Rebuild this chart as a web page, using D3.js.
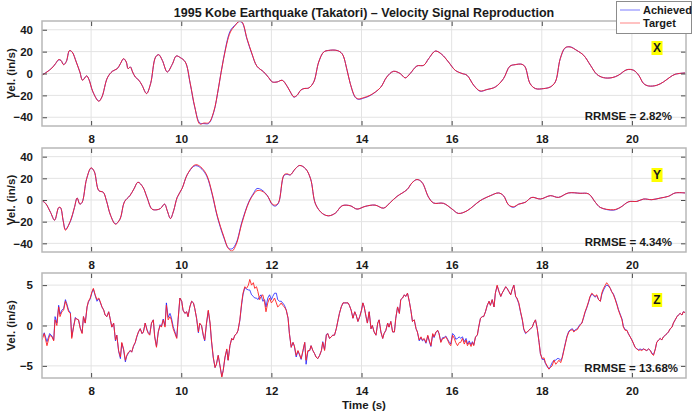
<!DOCTYPE html>
<html>
<head>
<meta charset="UTF-8" />
<script src="https://d3js.org/d3.v7.min.js"></script>
<style>
  body { margin: 0; background: #fff; }
  text { font-family: "Liberation Sans", Arial, sans-serif; font-weight: bold; fill: #1a1a1a; }
</style>
<title>Kobe velocity reproduction</title>
</head>
<body>
<div id="chart"></div>
<script>
// ---- data ----
const componentNames = ["X", "Y", "Z"];
const rrmseLabels = ["2.82%", "4.34%", "13.68%"];
const timeTicks = [8, 10, 12, 14, 16, 18, 20];
const xyTicks = [-40, -20, 0, 20, 40];
const zTicks = [-5, 0, 5];

const xTime = [6.91,7.02,7.13,7.21,7.28,7.33,7.39,7.45,7.52,7.58,7.67,7.75,7.81,7.90,7.95,8.04,8.17,8.24,8.36,8.47,8.58,8.65,8.72,8.78,8.82,8.87,8.92,8.98,9.06,9.13,9.23,9.32,9.43,9.50,9.58,9.69,9.80,9.89,9.98,10.09,10.20,10.30,10.41,10.50,10.61,10.72,10.83,10.94,11.09,11.20,11.28,11.35,11.46,11.57,11.68,11.83,11.94,12.02,12.13,12.24,12.35,12.42,12.50,12.57,12.65,12.72,12.83,12.94,13.05,13.16,13.27,13.46,13.57,13.68,13.75,13.86,13.93,14.05,14.19,14.42,14.56,14.71,14.86,14.97,15.08,15.23,15.38,15.49,15.64,15.78,15.93,16.08,16.23,16.34,16.49,16.63,16.78,16.97,17.15,17.29,17.41,17.56,17.63,17.74,17.86,18.04,18.19,18.30,18.41,18.52,18.63,18.78,18.93,19.08,19.22,19.37,19.56,19.70,19.89,20.04,20.15,20.26,20.37,20.55,20.70,20.85,20.96,21.18];
const xTarget = [-1.6,1.4,5,9,12.7,12,8,11,21,19.6,10.5,1.4,-6.2,-2.2,-5.3,-16.8,-25.4,-21.4,-4,2,4.4,9,13.6,10.5,4.4,6,1.4,-3.2,-6.2,-10.8,-18.4,-9.2,15,17.2,12,1.4,8.4,16,14.5,10.5,-9.2,-30.5,-46.2,-45.3,-45,-35,-12.3,13.6,37.9,44,47.6,47,31.8,18,6.6,1.4,-3.8,-7.7,-7.7,-6.2,-11.7,-16.8,-21.4,-19.9,-15.3,-13.8,-13.2,-7.7,10.5,19.6,21.1,21,18,2.9,-9.2,-21.4,-23.2,-22,-19.9,-12.9,-3.2,2,-0.1,-4,0,6.9,7.5,13.6,20.5,17.5,10.5,2.9,0,-1.6,-10.8,-15.9,-14.7,-12.3,-4.7,6.6,8.1,8.4,6,-9.2,-13.8,-13.8,-12.3,-7.7,13.6,23.6,24.2,21,16.6,7.5,-0.7,-3.8,-3.8,-1.6,3.5,2.9,-1.6,-9.2,-11.4,-10.8,-7.7,-3.2,-0.7,0.5];
const xAchieved = [-1.4,1.5,5,9,12.5,12,8.2,11,20.8,19.6,10.5,1.4,-6,-2.2,-5.2,-16.8,-25.2,-21.4,-4,2,4.4,9,13.4,10.5,4.4,6,1.4,-3.2,-6.2,-10.8,-18.2,-9.2,15,17.2,12,1.4,8.4,16,14.5,10.5,-9.6,-31,-45.2,-45.8,-45.6,-35.5,-12.3,14.2,39.2,44.5,47.4,46.5,31.2,17.6,6.6,1.4,-3.8,-7.7,-7.7,-6.2,-11.7,-16.8,-21.6,-19.9,-15.3,-13.8,-13.2,-7.7,10.5,19.6,21.1,21,18,2.9,-9.2,-21.8,-23.6,-22.5,-20.2,-12.9,-3.2,2,-0.1,-4,0,6.9,7.5,13.6,20.5,17.5,10.5,2.9,0,-1.6,-10.8,-16.2,-14.7,-12.3,-4.7,6.6,8.1,8.4,6,-9.2,-13.8,-13.8,-12.3,-7.7,13.6,23.4,24.4,21,16.6,7.5,-0.7,-3.8,-3.8,-1.6,3.5,2.9,-1.6,-9.2,-11.4,-10.8,-7.7,-3.2,-0.7,0.5];

const yTime = [6.91,6.99,7.10,7.19,7.28,7.32,7.38,7.43,7.54,7.63,7.69,7.75,7.80,7.90,8.00,8.07,8.17,8.27,8.34,8.43,8.54,8.64,8.74,8.86,8.95,9.04,9.15,9.24,9.35,9.46,9.54,9.63,9.69,9.76,9.83,9.91,10.02,10.13,10.28,10.35,10.46,10.57,10.68,10.80,10.94,11.05,11.13,11.22,11.35,11.50,11.61,11.68,11.79,11.91,12.02,12.09,12.16,12.28,12.35,12.42,12.53,12.63,12.76,12.87,12.98,13.13,13.27,13.42,13.57,13.75,13.90,14.08,14.30,14.49,14.64,14.79,15.01,15.12,15.23,15.34,15.49,15.60,15.82,16.01,16.15,16.34,16.49,16.63,16.86,17.04,17.15,17.26,17.37,17.49,17.63,17.78,17.97,18.19,18.37,18.59,18.85,19.04,19.19,19.30,19.59,19.74,19.93,20.11,20.26,20.44,20.63,20.81,20.96,21.18];
const yTarget = [-0.7,-3.1,-11.5,-18.6,-6.9,-6.9,-19.2,-27.9,-19.2,-6.9,1.8,-3.8,-2.2,19.5,29.7,26.3,8.7,7.1,-0.7,-14,-22.3,-17.7,-1.6,4,10.2,16.4,11.8,2.4,-8.4,-9,-7.8,-3.8,-10,-17.1,-10,2.4,10.8,23.2,31.9,32.5,29.4,22.6,7.1,-14.6,-33.2,-45,-47.1,-40.9,-20.8,-2.2,5.6,8.6,8.2,4,-3.8,-4.7,-2.2,23.2,24.2,23.2,28.8,31.9,28.8,19.5,-3.8,-12.4,-14.6,-12.1,-5.3,-5.3,-8.4,-5.9,-4.7,-7.5,-2.2,3.4,9.6,15.8,18.9,16.4,2.4,-2.8,-3.1,-8.4,-12.4,-10,-5.3,-0.7,4,6.5,4,-4.4,-6.2,-3.8,-2.2,2.4,0.9,4,2.4,6.5,6.2,5.6,-2.2,-6.9,-9,-6.9,-1.6,-1.3,0.9,0.3,1.8,3.4,6.5,6.5];
const yAchieved = [-0.7,-3.1,-11.5,-18.6,-7.2,-7.2,-19,-27,-19.8,-6.9,1.8,-3.8,-2.2,19.5,29.5,26.3,8.7,7.1,-0.7,-14,-22,-17.7,-1.6,4,10.2,16.4,11.8,2.4,-8.4,-9,-7.8,-3.8,-10,-17.1,-10,2.4,10.8,23.2,31.2,31.6,28.4,21.6,6.2,-15.4,-34.2,-44.6,-45,-39.6,-19.6,-1.6,6.6,10.6,9.2,4,-4.4,-5.6,-2.6,22.6,23.6,23.2,28.8,31.9,28.8,19.5,-3.8,-12.4,-14.6,-12.1,-5.3,-5.3,-8.4,-5.9,-4.7,-7.5,-2.2,3.4,9.6,15.8,18.9,16.4,2.4,-2.8,-3.1,-8.4,-12.4,-10,-5.3,-0.7,4,6.5,4,-4.4,-6.8,-3.8,-2.2,2.4,0.9,4,2.4,6.5,6.2,5.6,-2.2,-6.9,-9.4,-6.9,-1.6,-1.3,0.9,0.3,1.8,3.4,6.5,6.5];

const zTime = [6.91,6.96,7.02,7.08,7.13,7.17,7.20,7.24,7.28,7.31,7.35,7.39,7.43,7.46,7.50,7.54,7.57,7.61,7.65,7.68,7.72,7.76,7.80,7.83,7.87,7.91,7.94,7.98,8.02,8.05,8.09,8.13,8.17,8.20,8.24,8.28,8.31,8.35,8.39,8.42,8.46,8.50,8.54,8.57,8.61,8.65,8.68,8.72,8.76,8.79,8.83,8.87,8.90,8.94,8.98,9.01,9.05,9.09,9.13,9.16,9.20,9.24,
9.27,9.30,9.34,9.38,9.41,9.45,9.49,9.53,9.56,9.60,9.64,9.67,9.71,9.75,9.78,9.82,9.86,9.90,9.93,9.97,10.01,10.04,10.08,10.12,10.15,10.19,10.23,10.27,10.30,10.34,10.38,10.41,10.45,10.49,10.52,10.56,10.60,10.64,10.67,10.71,10.75,10.78,10.82,10.86,10.90,10.93,10.97,11.01,11.04,11.08,11.12,11.15,11.19,11.23,11.26,11.30,11.34,11.37,11.41,11.45,11.49,11.52,11.56,11.60,11.63,
11.67,11.70,11.74,11.77,11.81,11.85,11.88,11.92,11.96,12.00,12.03,12.07,12.11,12.14,12.18,12.22,12.25,12.29,12.33,12.37,12.40,12.44,12.48,12.51,12.55,12.59,12.62,12.66,12.70,12.74,12.77,12.81,12.85,12.88,12.92,12.96,12.99,13.03,13.07,13.11,13.14,13.18,13.22,13.25,13.29,13.33,13.36,13.40,13.44,13.48,13.51,13.55,13.59,13.62,13.66,13.70,13.73,13.77,13.81,13.85,13.88,13.92,13.96,14.00,14.03,
14.06,14.10,14.13,14.17,14.21,14.24,14.28,14.32,14.36,14.39,14.43,14.47,14.50,14.54,14.58,14.61,14.65,14.69,14.73,14.76,14.80,14.84,14.87,14.91,14.95,14.98,15.02,15.06,15.10,15.13,15.17,15.21,15.24,15.28,15.32,15.35,15.39,15.43,15.47,15.50,15.54,15.58,15.61,15.65,15.69,15.72,15.76,15.80,15.83,15.87,15.91,15.95,15.98,16.02,16.06,16.09,16.13,16.17,16.20,16.24,16.28,16.32,16.35,16.39,16.43,
16.46,16.49,16.53,16.57,16.60,16.64,16.68,16.71,16.75,16.79,16.83,16.86,16.90,16.94,16.97,17.01,17.05,17.09,17.12,17.16,17.20,17.23,17.27,17.31,17.34,17.38,17.42,17.45,17.49,17.53,17.57,17.60,17.64,17.68,17.71,17.75,17.79,17.82,17.86,17.90,17.94,17.97,18.01,18.05,18.08,18.12,18.16,18.19,18.23,18.27,18.31,18.34,18.38,18.42,18.45,18.49,18.53,18.56,18.60,18.64,18.68,18.71,18.75,18.79,18.82,
18.86,18.89,18.93,18.96,19.00,19.04,19.07,19.11,19.15,19.18,19.22,19.26,19.30,19.33,19.37,19.41,19.44,19.48,19.52,19.55,19.59,19.63,19.67,19.70,19.74,19.78,19.81,19.85,19.89,19.92,19.96,20.00,20.04,20.07,20.11,20.15,20.18,20.22,20.26,20.29,20.33,20.37,20.41,20.44,20.48,20.52,20.55,20.59,20.63,20.66,20.70,20.74,20.78,20.81,20.85,20.89,20.92,20.96,21.00,21.03,21.07,21.11,21.14,21.18];
const zTarget = [-1.8,-1.0,-2.5,-1.2,-1.4,-1.9,0.7,0.0,2.3,1.1,1.7,1.9,3.0,2.5,1.7,1.5,-1.6,-0.2,0.9,0.8,0.7,-0.4,-1.0,1.1,0.3,2.3,3.0,3.4,4.2,4.6,3.8,3.2,3.4,3.0,2.3,1.9,1.3,1.1,1.7,0.9,-0.2,0.3,-1.8,-1.2,-3.1,-3.9,-2.1,-2.9,-4.3,-3.7,-3.3,-3.1,-3.3,-2.5,-2.1,-1.4,-0.8,-0.4,-1.0,-0.8,0.3,-0.6,
-1.0,-1.2,0.3,0.7,-1.4,-2.7,-0.8,0.0,-0.2,0.7,-0.2,2.5,0.7,1.1,0.7,-0.4,-1.0,-1.6,0.7,3.4,3.0,1.9,1.5,1.7,1.1,2.3,3.0,2.8,2.1,0.9,-0.8,0.3,0.0,-1.2,-1.8,0.3,1.9,0.3,-1.8,-3.9,-5.2,-4.8,-3.7,-5.0,-6.4,-5.6,-3.9,-2.9,-4.3,-2.5,-1.6,-1.8,-1.2,-1.0,-0.6,0.7,2.8,4.0,4.8,4.6,5.0,5.7,5.0,5.3,4.6,
4.8,4.2,3.2,3.6,3.8,2.8,1.7,2.8,3.4,2.8,3.0,3.4,2.8,2.3,2.5,2.8,2.5,2.3,1.9,0.9,-1.0,-2.7,-2.1,-2.5,-3.7,-3.1,-3.5,-4.1,-3.1,-2.1,-4.3,-3.1,-3.1,-2.5,-3.1,-3.5,-3.9,-4.1,-3.7,-3.1,-2.1,-3.1,-1.2,-1.0,-1.6,-1.4,-1.2,-1.2,-0.4,0.7,1.5,2.3,2.8,2.8,2.8,2.8,2.5,1.9,0.9,1.7,1.3,0.5,1.1,1.9,2.8,
2.3,1.1,0.3,1.7,-0.4,0.0,-0.8,-1.2,0.3,0.7,-0.8,-1.6,-1.0,-0.6,0.3,-0.2,0.5,-0.8,-0.8,0.9,2.3,1.5,3.2,3.4,3.8,3.6,4.0,3.0,1.7,0.5,0.7,-0.4,-0.8,-1.8,-1.4,-1.8,-1.6,-2.1,-1.2,-1.8,-2.5,-1.0,-1.4,-0.8,-0.6,-1.0,-2.1,-1.6,-1.6,-1.4,-1.8,-2.3,-2.5,-1.2,-1.6,-2.1,-2.5,-2.1,-2.1,-1.6,-2.3,-1.8,-2.5,-2.1,-2.6,
-2.1,-2.5,-1.4,-1.2,-0.2,0.9,1.1,1.1,1.7,2.5,3.0,2.5,3.2,2.3,4.0,5.0,4.2,3.6,4.0,4.4,4.8,4.6,4.2,3.8,4.4,5.0,3.6,3.4,2.8,1.7,0.7,-0.4,-0.9,-0.8,-0.6,-0.4,-0.2,0.3,0.7,-0.4,-2.1,-3.5,-4.1,-4.0,-4.6,-5.0,-5.4,-5.2,-5.0,-4.3,-4.8,-4.6,-4.3,-4.6,-4.1,-3.1,-2.1,-1.4,-0.8,-0.6,-0.5,-0.8,-0.6,-0.5,-0.2,
0.1,0.3,1.1,1.7,2.3,3.0,3.6,4.0,3.8,3.6,3.8,3.2,3.0,4.0,4.6,5.0,5.3,5.0,4.6,4.2,3.8,3.2,2.5,1.9,1.3,0.7,-0.2,-0.6,-0.6,-1.0,-1.4,-1.8,-2.3,-2.7,-2.9,-3.1,-3.0,-3.1,-2.9,-3.0,-3.1,-2.9,-3.1,-3.5,-3.7,-2.9,-2.1,-1.8,-1.6,-1.8,-1.4,-1.2,-1.0,-0.8,-0.4,-0.2,0.3,0.7,1.1,1.3,1.5,1.3,1.7,1.6];
const zAchieved = [-1.5,-0.9,-2.0,-1.0,-1.3,-1.8,1.1,0.3,2.5,1.4,1.9,2.1,3.2,2.7,1.9,1.6,-1.4,-0.1,1.0,0.8,0.7,-0.3,-0.9,1.1,0.3,2.3,2.9,3.3,4.1,4.5,3.7,3.0,3.3,2.9,2.3,1.9,1.3,1.1,1.7,0.9,-0.2,0.3,-1.9,-1.2,-3.2,-4.1,-2.2,-3.0,-4.5,-3.8,-3.4,-3.1,-3.3,-2.6,-2.1,-1.5,-0.8,-0.4,-1.0,-0.8,0.3,-0.5,
-0.9,-1.1,0.3,0.7,-1.3,-2.6,-0.8,0.1,-0.1,0.8,0.0,2.8,1.0,1.5,1.0,-0.1,-0.8,-1.5,0.7,3.4,3.0,1.9,1.5,1.7,1.1,2.3,3.0,2.8,2.1,0.9,-0.9,0.2,0.0,-1.3,-1.9,0.2,1.8,0.2,-1.9,-4.0,-5.2,-4.8,-3.7,-5.0,-6.3,-5.6,-4.0,-3.0,-4.3,-2.5,-1.6,-1.8,-1.2,-1.0,-0.6,0.6,2.6,3.8,4.7,4.5,4.4,4.4,3.8,3.6,3.4,
3.4,3.2,3.6,3.8,3.0,3.2,2.3,3.4,3.8,3.2,3.6,4.0,4.0,3.2,3.0,3.0,2.8,2.5,1.9,0.9,-1.0,-2.7,-2.1,-2.6,-3.9,-3.2,-3.6,-4.2,-3.2,-2.1,-4.8,-3.2,-3.1,-2.5,-3.1,-3.5,-3.9,-4.1,-3.7,-3.1,-2.0,-3.0,-1.1,-1.0,-1.6,-1.4,-1.2,-1.2,-0.4,0.7,1.5,2.3,2.8,2.8,2.8,2.8,2.5,1.9,0.9,1.7,1.3,0.5,1.1,1.9,2.8,
2.3,1.1,0.3,1.7,-0.4,0.0,-0.8,-1.2,0.3,0.7,-0.8,-1.6,-1.0,-0.6,0.3,-0.2,0.5,-0.8,-0.8,0.9,2.3,1.5,3.2,3.4,3.8,3.6,4.0,3.0,1.7,0.5,0.7,-0.4,-0.8,-1.9,-1.5,-1.9,-1.7,-2.2,-1.3,-1.9,-2.6,-1.1,-1.5,-0.9,-0.6,-1.0,-2.0,-1.5,-1.5,-1.3,-1.7,-2.1,-2.3,-1.0,-1.2,-1.7,-1.6,-1.4,-1.6,-1.4,-2.0,-1.6,-2.3,-1.9,-2.4,
-2.0,-2.4,-1.4,-1.2,-0.2,0.9,1.1,1.1,1.7,2.5,3.0,2.5,3.2,2.3,4.0,4.9,4.2,3.6,4.0,4.4,4.8,4.6,4.2,3.8,4.4,5.0,3.6,3.3,2.7,1.6,0.6,-0.5,-1.0,-0.8,-0.6,-0.4,-0.2,0.3,0.7,-0.4,-2.1,-3.5,-4.2,-4.2,-4.7,-5.1,-5.4,-5.1,-4.6,-4.3,-4.3,-4.1,-4.1,-4.3,-4.0,-3.0,-2.0,-1.3,-0.7,-0.5,-0.4,-0.7,-0.5,-0.4,-0.1,
0.2,0.3,1.0,1.6,2.2,2.9,3.5,3.9,3.7,3.5,3.7,3.2,3.0,3.8,4.4,4.8,5.0,4.9,4.6,4.2,3.9,3.3,2.6,2.0,1.4,0.8,-0.1,-0.5,-0.6,-1.0,-1.4,-1.8,-2.3,-2.7,-2.9,-3.0,-2.9,-3.0,-2.9,-3.0,-3.1,-2.9,-3.1,-3.4,-3.6,-2.9,-2.1,-1.8,-1.6,-1.8,-1.4,-1.2,-1.0,-0.8,-0.4,-0.2,0.3,0.7,1.1,1.3,1.5,1.3,1.7,1.6];

// ---- layout ----
const W = 700, H = 420;
const left = 42, right = 686;
const panels = [
  { top: 21,  h: 105, time: xTime, target: xTarget, achieved: xAchieved, domain: [-48, 48], ticks: xyTicks, smooth: true },
  { top: 148, h: 104, time: yTime, target: yTarget, achieved: yAchieved, domain: [-48, 48], ticks: xyTicks, smooth: true },
  { top: 273, h: 105, time: zTime, target: zTarget, achieved: zAchieved, domain: [-6.5, 6.5], ticks: zTicks, smooth: false }
];
const blue = "#1010ff", red = "#ff2020";

const svg = d3.select("#chart").append("svg")
  .attr("width", W).attr("height", H);

const x = d3.scaleLinear().domain([6.91, 21.2]).range([left, right]);

panels.forEach(function (p, i) {
  const y = d3.scaleLinear().domain(p.domain).range([p.top + p.h, p.top]);
  const g = svg.append("g");

  // grid
  g.selectAll(".vg").data(timeTicks).enter().append("line")
    .attr("x1", d => x(d)).attr("x2", d => x(d))
    .attr("y1", p.top).attr("y2", p.top + p.h)
    .attr("stroke", "#e3e3e3").attr("stroke-width", 1);
  g.selectAll(".hg").data(p.ticks).enter().append("line")
    .attr("x1", left).attr("x2", right)
    .attr("y1", d => y(d)).attr("y2", d => y(d))
    .attr("stroke", "#e3e3e3").attr("stroke-width", 1);

  // clip for the signal
  svg.append("clipPath").attr("id", "clip" + i).append("rect")
    .attr("x", left).attr("y", p.top).attr("width", right - left).attr("height", p.h);

  const line = d3.line()
    .x((d, k) => x(p.time[k]))
    .y(d => y(d))
    .curve(p.smooth ? d3.curveCatmullRom.alpha(0.5) : d3.curveLinear);

  g.append("path").datum(p.achieved)
    .attr("clip-path", "url(#clip" + i + ")")
    .attr("fill", "none").attr("stroke", blue)
    .attr("stroke-width", 1).attr("stroke-opacity", 0.75)
    .attr("d", line);
  g.append("path").datum(p.target)
    .attr("clip-path", "url(#clip" + i + ")")
    .attr("fill", "none").attr("stroke", red)
    .attr("stroke-width", 1).attr("stroke-opacity", 0.9)
    .attr("d", line);

  // axes (ticks inside, MATLAB box style)
  const axB = g.append("g").attr("transform", "translate(0," + (p.top + p.h) + ")")
    .call(d3.axisBottom(x).tickValues(timeTicks).tickSize(-5).tickPadding(9));
  const axT = g.append("g").attr("transform", "translate(0," + p.top + ")")
    .call(d3.axisTop(x).tickValues(timeTicks).tickSize(-5).tickFormat(""));
  const axL = g.append("g").attr("transform", "translate(" + left + ",0)")
    .call(d3.axisLeft(y).tickValues(p.ticks).tickSize(-5).tickPadding(9));
  const axR = g.append("g").attr("transform", "translate(" + right + ",0)")
    .call(d3.axisRight(y).tickValues(p.ticks).tickSize(-5).tickFormat(""));
  [axB, axT, axL, axR].forEach(function (a) {
    a.select(".domain").remove();
    a.selectAll(".tick line").attr("stroke", "#4a4a4a");
    a.selectAll("text").attr("fill", "#1a1a1a")
      .style("font-size", "11.5px").style("font-weight", "bold")
      .style("font-family", "'Liberation Sans', Arial, sans-serif");
  });

  // frame
  g.append("rect").attr("x", left).attr("y", p.top)
    .attr("width", right - left).attr("height", p.h)
    .attr("fill", "none").attr("stroke", "#b8b8b8").attr("stroke-width", 1.5);

  // y label
  g.append("text")
    .attr("transform", "translate(15," + (p.top + p.h / 2) + ") rotate(-90)")
    .attr("text-anchor", "middle").style("font-size", "11.5px")
    .text("Vel. (in/s)");

  // component tag with yellow background
  const tagBox = g.append("rect").attr("fill", "#ffff00");
  const tag = g.append("text").attr("x", 657).attr("y", p.top + 30.5)
    .attr("text-anchor", "middle").style("font-size", "12px")
    .text(componentNames[i]);
  const bb = tag.node().getBBox();
  tagBox.attr("x", bb.x - 1.5).attr("y", bb.y + 0.5)
    .attr("width", bb.width + 3).attr("height", bb.height);

  // RRMSE
  g.append("text")
    .attr("x", i === 2 ? 678 : 672).attr("y", p.top + p.h - 6)
    .attr("text-anchor", "end").style("font-size", "11.5px")
    .text("RRMSE = " + rrmseLabels[i]);
});

// title
svg.append("text").attr("x", 364).attr("y", 17)
  .attr("text-anchor", "middle").style("font-size", "12.5px")
  .text("1995 Kobe Earthquake (Takatori) \u2013 Velocity Signal Reproduction");

// x label
svg.append("text").attr("x", 364).attr("y", 409)
  .attr("text-anchor", "middle").style("font-size", "11.5px")
  .text("Time (s)");

// legend
const lg = svg.append("g");
lg.append("rect").attr("x", 616.5).attr("y", 1.5).attr("width", 75).attr("height", 32)
  .attr("fill", "#fff").attr("stroke", "#8c8c8c").attr("stroke-width", 1);
[["Achieved", blue], ["Target", red]].forEach(function (item, k) {
  const yy = 10 + k * 13;
  lg.append("line").attr("x1", 620).attr("x2", 640).attr("y1", yy).attr("y2", yy)
    .attr("stroke", item[1]).attr("stroke-opacity", 0.55).attr("stroke-width", 1);
  lg.append("text").attr("x", 643).attr("y", yy + 4)
    .style("font-size", "11px").text(item[0]);
});
</script>
</body>
</html>
